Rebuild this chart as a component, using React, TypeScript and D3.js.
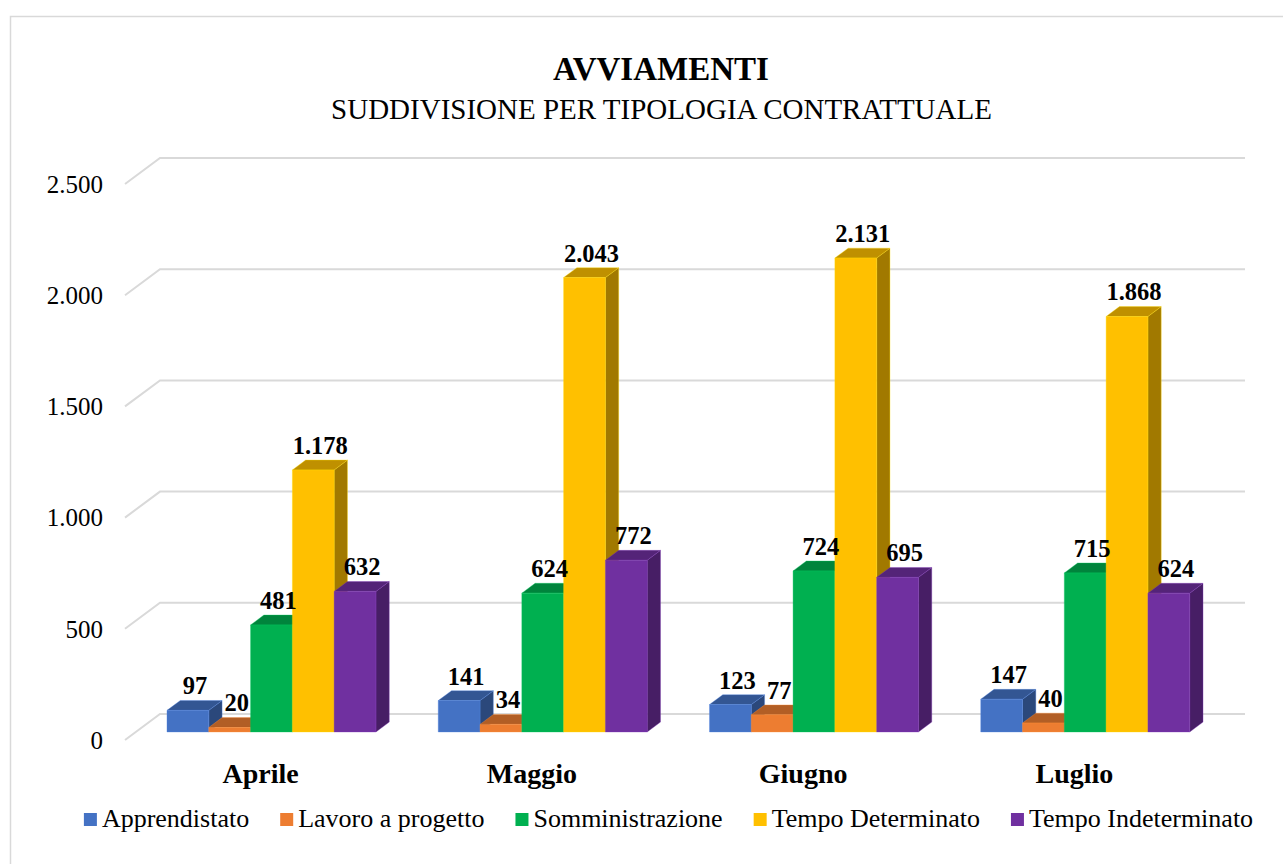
import React from "react";
import * as d3 from "d3";

// chart values
const categories = ["Aprile", "Maggio", "Giugno", "Luglio"];
const seriesNames = [
  "Apprendistato",
  "Lavoro a progetto",
  "Somministrazione",
  "Tempo Determinato",
  "Tempo Indeterminato",
];
const apprendistato = [97, 141, 123, 147];
const lavoroProgetto = [20, 34, 77, 40];
const somministrazione = [481, 624, 724, 715];
const tempoDeterminato = [1178, 2043, 2131, 1868];
const tempoIndeterminato = [632, 772, 695, 624];
const seriesValues = [apprendistato, lavoroProgetto, somministrazione, tempoDeterminato, tempoIndeterminato];
const seriesColors = ["#4472C4", "#ED7D31", "#00B050", "#FFC000", "#7030A0"];
const yTicks = [0, 500, 1000, 1500, 2000, 2500];

const W = 1283;
const H = 864;
const FONT = "'Liberation Serif', 'Times New Roman', serif";

// 3D floor geometry
const X0 = 125; // front-left corner of the floor
const Y0 = 740;
const DX = 35; // depth offset of back wall
const DY = -26;
const plotW = 1085;
const plotH = 556;
const depthFront = 0.31;
const depthBack = 0.69;

const fmt = (v: number) => d3.format(",")(v).replace(/,/g, ".");

function shade(c: string, f: number) {
  const r = d3.rgb(c);
  return d3.rgb(r.r * f, r.g * f, r.b * f).formatHex();
}

function measure(text: string, font: string) {
  const cv = document.createElement("canvas");
  const ctx = cv.getContext("2d")!;
  ctx.font = font;
  return ctx.measureText(text).width;
}

export default function App() {
  const xBand = d3.scaleBand<string>().domain(categories).range([0, plotW]).padding(0);
  const inner = d3
    .scaleBand<number>()
    .domain(d3.range(seriesNames.length))
    .range([0, xBand.bandwidth()])
    .paddingInner(0)
    .paddingOuter(0.745);
  const y = d3.scaleLinear().domain([0, 2500]).range([0, plotH]);

  // projection: x along front, h height in px, d depth fraction
  const P = (x: number, h: number, d: number): [number, number] => [X0 + x + d * DX, Y0 - h + d * DY];
  const pts = (arr: [number, number][]) => arr.map((p) => p.join(",")).join(" ");

  // legend layout
  const legendFont = `26px ${FONT}`;
  const sq = 13;
  const gapText = 5;
  const gapItem = 31;
  const widths = seriesNames.map((s) => measure(s, legendFont));
  const total = d3.sum(widths) + seriesNames.length * (sq + gapText) + (seriesNames.length - 1) * gapItem;
  let lx = 668.5 - total / 2;
  const legendItems = seriesNames.map((s, i) => {
    const item = { name: s, x: lx, color: seriesColors[i] };
    lx += sq + gapText + widths[i] + gapItem;
    return item;
  });

  return (
    <svg width={W} height={H} style={{ position: "absolute", left: 0, top: 0, background: "#fff" }}>
      <rect x={10.5} y={16.5} width={1300} height={900} fill="#fff" stroke="#d9d9d9" strokeWidth={1.5} />

      {/* title */}
      <text x={661} y={80} textAnchor="middle" fontFamily={FONT} fontWeight="bold" fontSize={33} fill="#000">
        AVVIAMENTI
      </text>
      <text x={661.5} y={119} textAnchor="middle" fontFamily={FONT} fontSize={29} fill="#000">
        SUDDIVISIONE PER TIPOLOGIA CONTRATTUALE
      </text>

      {/* gridlines */}
      {yTicks.map((t) => {
        const a = P(0, y(t), 0);
        const b = P(0, y(t), 1);
        const c = P(plotW, y(t), 1);
        return (
          <g key={t}>
            <polyline points={pts([a, b, c])} fill="none" stroke="#d9d9d9" strokeWidth={2} />
            <text
              x={103}
              y={a[1]}
              dy="0.35em"
              textAnchor="end"
              fontFamily={FONT}
              fontSize={25}
              fill="#000"
            >
              {fmt(t)}
            </text>
          </g>
        );
      })}

      {/* bars */}
      {categories.map((cat, ci) => (
        <g key={cat}>
          {seriesNames.map((s, si) => {
            const v = seriesValues[si][ci];
            const h = y(v);
            const x = xBand(cat)! + inner(si)!;
            const w = inner.bandwidth();
            const col = seriesColors[si];
            const front = [P(x, 0, depthFront), P(x + w, 0, depthFront), P(x + w, h, depthFront), P(x, h, depthFront)];
            const top = [P(x, h, depthFront), P(x + w, h, depthFront), P(x + w, h, depthBack), P(x, h, depthBack)];
            const side = [P(x + w, 0, depthFront), P(x + w, 0, depthBack), P(x + w, h, depthBack), P(x + w, h, depthFront)];
            const edge = d3.rgb(col).brighter(0.4).formatHex();
            return (
              <g key={s} strokeWidth={0.6} strokeOpacity={0.6} strokeLinejoin="round">
                <polygon points={pts(side as any)} fill={shade(col, 0.63)} stroke={edge} />
                <polygon points={pts(top as any)} fill={shade(col, 0.75)} stroke={edge} />
                <polygon points={pts(front as any)} fill={col} stroke={edge} />
              </g>
            );
          })}
        </g>
      ))}

      {/* data labels */}
      {categories.map((cat, ci) =>
        seriesNames.map((s, si) => {
          const v = seriesValues[si][ci];
          const x = xBand(cat)! + inner(si)! + inner.bandwidth() / 2;
          const [px, py] = P(x, y(v), depthFront);
          return (
            <text
              key={cat + s}
              x={px + 7}
              y={py - 16}
              textAnchor="middle"
              fontFamily={FONT}
              fontWeight="bold"
              fontSize={24.5}
              fill="#000"
            >
              {fmt(v)}
            </text>
          );
        })
      )}

      {/* category labels */}
      {categories.map((cat) => {
        const [px] = P(xBand(cat)! + xBand.bandwidth() / 2, 0, 0);
        return (
          <text key={cat} x={px} y={783} textAnchor="middle" fontFamily={FONT} fontWeight="bold" fontSize={28} fill="#000">
            {cat}
          </text>
        );
      })}

      {/* legend */}
      {legendItems.map((it) => (
        <g key={it.name}>
          <rect x={it.x} y={813} width={sq} height={sq} fill={it.color} />
          <text x={it.x + sq + gapText} y={827} fontFamily={FONT} fontSize={26} fill="#000">
            {it.name}
          </text>
        </g>
      ))}
    </svg>
  );
}
